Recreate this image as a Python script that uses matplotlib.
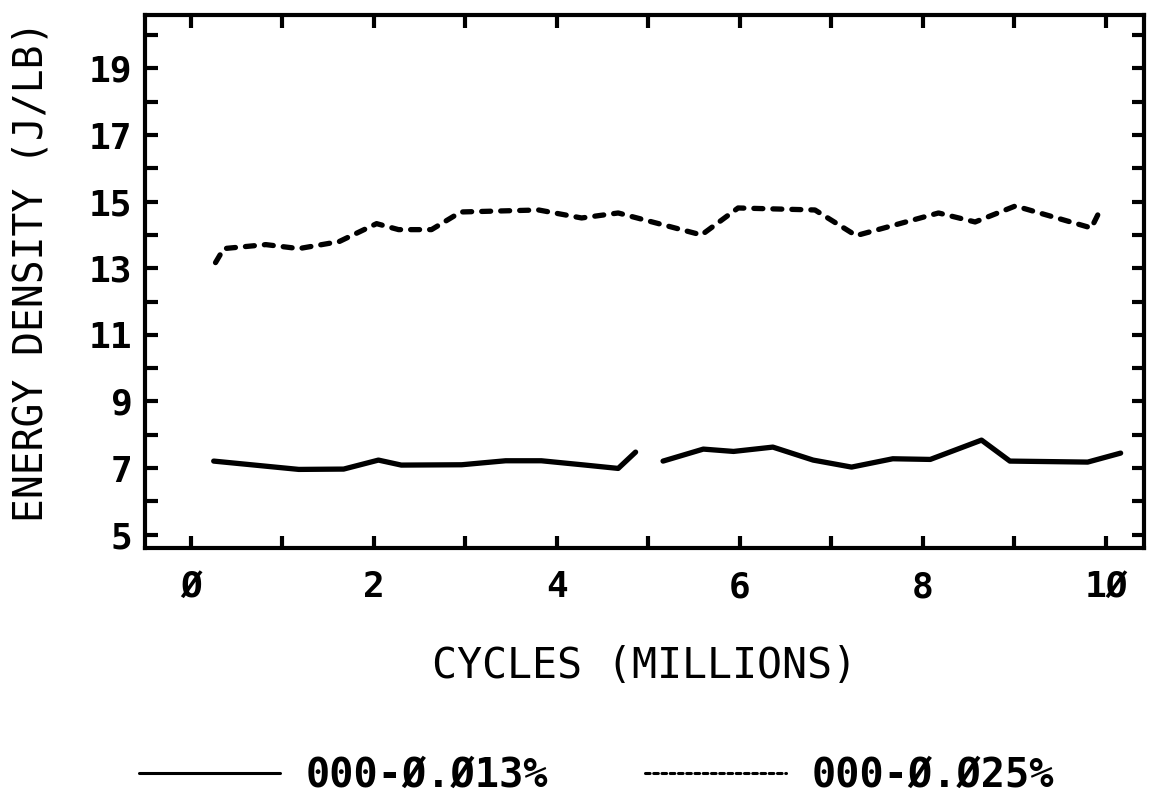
import matplotlib.pyplot as plt
import numpy as np
from matplotlib.ticker import MultipleLocator, FixedLocator

# solid series, two pieces with a gap
x_a1 = [0.25, 1.18, 1.67, 2.05, 2.30, 2.96, 3.44, 3.83, 4.31, 4.67, 4.86]
y_a1 = [7.21, 6.96, 6.97, 7.24, 7.09, 7.10, 7.22, 7.22, 7.09, 6.99, 7.48]
x_a2 = [5.16, 5.60, 5.93, 6.36, 6.80, 7.22, 7.67, 8.08, 8.64, 8.95, 9.80, 10.16]
y_a2 = [7.21, 7.57, 7.50, 7.63, 7.24, 7.03, 7.28, 7.26, 7.84, 7.21, 7.18, 7.45]

# dashed series
x_b = [0.27, 0.36, 0.82, 1.18, 1.62, 2.03, 2.27, 2.63, 2.95, 3.80, 4.27, 4.67,
       5.58, 5.98, 6.82, 7.27, 8.17, 8.57, 9.01, 9.84, 9.91]
y_b = [13.17, 13.59, 13.71, 13.59, 13.80, 14.34, 14.16, 14.16, 14.69, 14.75, 14.51, 14.66,
       14.00, 14.81, 14.75, 13.98, 14.66, 14.39, 14.87, 14.21, 14.60]

xticks = [0, 2, 4, 6, 8, 10]
xticklabels = ['Ø', '2', '4', '6', '8', '1Ø']
yticks = [5, 7, 9, 11, 13, 15, 17, 19]
names = ['000-Ø.Ø13%', '000-Ø.Ø25%']

fig = plt.figure(figsize=(11.54, 7.97), dpi=100)
ax = fig.add_axes([0.1257, 0.3124, 0.866, 0.6686])

lw = 3.8
ax.plot(x_a1, y_a1, color='black', lw=lw, solid_capstyle='round', solid_joinstyle='round')
l1, = ax.plot(x_a2, y_a2, color='black', lw=lw, solid_capstyle='round', solid_joinstyle='round')
l2, = ax.plot(x_b, y_b, color='black', lw=lw, linestyle=(0, (1.7, 1.9)),
              dash_capstyle='round')

ax.set_xlim(-0.5, 10.42)
ax.set_ylim(4.6, 20.6)

ax.xaxis.set_major_locator(FixedLocator(xticks))
ax.xaxis.set_minor_locator(MultipleLocator(1))
ax.yaxis.set_major_locator(FixedLocator(yticks))
ax.yaxis.set_minor_locator(MultipleLocator(1))
ax.set_xticklabels(xticklabels)
ax.set_yticklabels([str(v) for v in yticks])

for sp in ax.spines.values():
    sp.set_linewidth(3)
ax.tick_params(which='both', direction='in', length=9, width=3,
               top=True, right=True)
ax.tick_params(axis='x', labelsize=26, pad=16)
ax.tick_params(axis='y', labelsize=26, pad=9)
for t in ax.get_xticklabels() + ax.get_yticklabels():
    t.set_fontfamily('DejaVu Sans Mono')
    t.set_fontweight('bold')

ax.set_xlabel('CYCLES (MILLIONS)', fontsize=30, family='DejaVu Sans Mono')
ax.set_ylabel('ENERGY DENSITY (J/LB)', fontsize=28.5, family='DejaVu Sans Mono')
ax.xaxis.set_label_coords(0.5, -0.182)
ax.yaxis.set_label_coords(-0.094, 0.52)

leg = fig.legend([l1, l2], names, loc='center', bbox_to_anchor=(0.517, 0.027), ncol=2,
                 frameon=False, handlelength=3.5, handletextpad=0.65, columnspacing=2.4,
                 prop={'family': 'DejaVu Sans Mono', 'weight': 'bold', 'size': 29})
leg.legend_handles[0].set_linewidth(2.2)
leg.legend_handles[1].set_linewidth(2.2)
leg.legend_handles[1].set_dashes((1.5, 1.2))

fig.savefig('out.png', dpi=100)
